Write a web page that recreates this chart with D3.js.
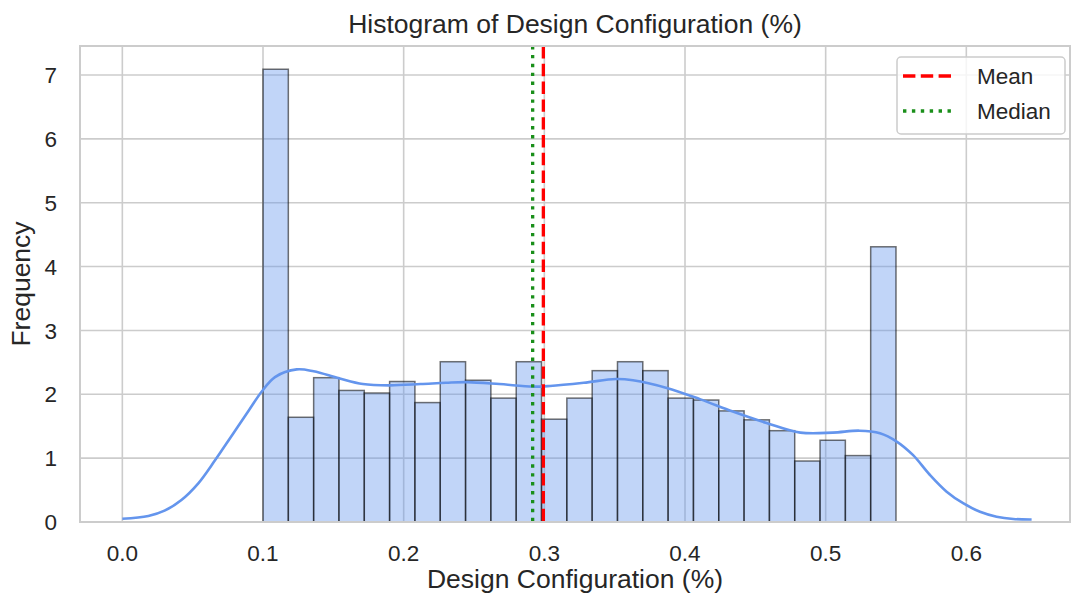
<!DOCTYPE html>
<html>
<head>
<meta charset="utf-8">
<script src="https://cdn.jsdelivr.net/npm/d3@7"></script>
<style>
  body { margin: 0; background: #fff; }
  svg text { font-family: "Liberation Sans", Arial, sans-serif; fill: #262626; }
</style>
</head>
<body>
<svg id="chart" width="1073" height="601"></svg>
<script>
// bin edges of the histogram (25 bins)
const binEdges = [0.100, 0.118, 0.136, 0.154, 0.172, 0.190, 0.208, 0.226, 0.244, 0.262,
                  0.280, 0.298, 0.316, 0.334, 0.352, 0.370, 0.388, 0.406, 0.424, 0.442,
                  0.460, 0.478, 0.496, 0.514, 0.532, 0.550];
// bar heights (density)
const binHeights = [7.09, 1.64, 2.26, 2.06, 2.02, 2.20, 1.87, 2.51, 2.22, 1.94,
                    2.51, 1.61, 1.94, 2.37, 2.51, 2.37, 1.94, 1.91, 1.74, 1.60,
                    1.43, 0.955, 1.28, 1.04, 4.31];
// kde curve
const kdeX = [0.000, 0.0185, 0.030, 0.042, 0.054, 0.066, 0.078, 0.090, 0.099, 0.1085,
              0.124, 0.136, 0.154, 0.171, 0.190, 0.212, 0.230, 0.245, 0.268, 0.292,
              0.304, 0.328, 0.351, 0.363, 0.387, 0.411, 0.434, 0.458, 0.482, 0.505,
              0.524, 0.5386, 0.5505, 0.562, 0.574, 0.586, 0.598, 0.6097, 0.6215, 0.6334,
              0.6464];
const kdeY = [0.05, 0.094, 0.177, 0.345, 0.606, 0.97, 1.36, 1.75, 2.04, 2.27,
              2.39, 2.36, 2.25, 2.16, 2.14, 2.16, 2.18, 2.19, 2.16, 2.12,
              2.13, 2.18, 2.24, 2.22, 2.10, 1.92, 1.73, 1.55, 1.40, 1.40,
              1.43, 1.39, 1.26, 1.05, 0.74, 0.475, 0.29, 0.16, 0.083, 0.047,
              0.04];
const meanValue = 0.2993;
const medianValue = 0.2917;
const xTicks = [0.0, 0.1, 0.2, 0.3, 0.4, 0.5, 0.6];
const yTicks = [0, 1, 2, 3, 4, 5, 6, 7];
const xDomain = [-0.0301, 0.6737];
const yDomain = [0, 7.454];

const svg = d3.select("#chart");
const width = +svg.attr("width");
const height = +svg.attr("height");
const margin = {top: 46, right: 3, bottom: 79, left: 80};

const x = d3.scaleLinear().domain(xDomain).range([margin.left, width - margin.right]);
const y = d3.scaleLinear().domain(yDomain).range([height - margin.bottom, margin.top]);

const gridColor = "#cccccc";

// grid
svg.append("g")
    .selectAll("line")
    .data(xTicks)
    .join("line")
    .attr("x1", d => x(d)).attr("x2", d => x(d))
    .attr("y1", margin.top).attr("y2", height - margin.bottom)
    .attr("stroke", gridColor).attr("stroke-width", 1.6);

svg.append("g")
    .selectAll("line")
    .data(yTicks)
    .join("line")
    .attr("x1", margin.left).attr("x2", width - margin.right)
    .attr("y1", d => y(d)).attr("y2", d => y(d))
    .attr("stroke", gridColor).attr("stroke-width", 1.6);

// bars
const bins = binHeights.map((h, i) => ({x0: binEdges[i], x1: binEdges[i + 1], h: h}));
svg.append("g")
    .selectAll("rect")
    .data(bins)
    .join("rect")
    .attr("x", d => x(d.x0))
    .attr("y", d => y(d.h))
    .attr("width", d => x(d.x1) - x(d.x0))
    .attr("height", d => y(0) - y(d.h))
    .attr("fill", "#6495ED")
    .attr("fill-opacity", 0.4)
    .attr("stroke", "#000")
    .attr("stroke-opacity", 0.55)
    .attr("stroke-width", 1.5);

// kde
const kdePoints = kdeX.map((v, i) => [v, kdeY[i]]);
svg.append("path")
    .datum(kdePoints)
    .attr("fill", "none")
    .attr("stroke", "#6495ED")
    .attr("stroke-width", 2.6)
    .attr("d", d3.line().x(d => x(d[0])).y(d => y(d[1])).curve(d3.curveCatmullRom));

// mean / median lines
svg.append("line")
    .attr("x1", x(meanValue)).attr("x2", x(meanValue))
    .attr("y1", y(yDomain[1])).attr("y2", y(0))
    .attr("stroke", "#ff0000").attr("stroke-width", 3.3)
    .attr("stroke-dasharray", "12.4,5.4");

svg.append("line")
    .attr("x1", x(medianValue)).attr("x2", x(medianValue))
    .attr("y1", y(yDomain[1])).attr("y2", y(0))
    .attr("stroke", "#1a8f1a").attr("stroke-width", 3.3)
    .attr("stroke-dasharray", "3.4,5.5");

// frame
svg.append("rect")
    .attr("x", margin.left).attr("y", margin.top)
    .attr("width", width - margin.left - margin.right)
    .attr("height", height - margin.top - margin.bottom)
    .attr("fill", "none")
    .attr("stroke", gridColor).attr("stroke-width", 2);

// tick labels
svg.append("g")
    .selectAll("text")
    .data(xTicks)
    .join("text")
    .attr("x", d => x(d))
    .attr("y", 561)
    .attr("text-anchor", "middle")
    .style("font-size", "22.5px")
    .text(d => d3.format(".1f")(d));

svg.append("g")
    .selectAll("text")
    .data(yTicks)
    .join("text")
    .attr("x", 57)
    .attr("y", d => y(d))
    .attr("dy", "0.36em")
    .attr("text-anchor", "end")
    .style("font-size", "22.5px")
    .text(d => d);

// axis labels and title
svg.append("text")
    .attr("x", (margin.left + width - margin.right) / 2)
    .attr("y", 588)
    .attr("text-anchor", "middle")
    .style("font-size", "26.5px")
    .text("Design Configuration (%)");

svg.append("text")
    .attr("transform", `translate(30, ${(margin.top + height - margin.bottom) / 2}) rotate(-90)`)
    .attr("text-anchor", "middle")
    .style("font-size", "26.5px")
    .text("Frequency");

svg.append("text")
    .attr("x", (margin.left + width - margin.right) / 2)
    .attr("y", 33)
    .attr("text-anchor", "middle")
    .style("font-size", "26.5px")
    .text("Histogram of Design Configuration (%)");

// legend
const legend = svg.append("g").attr("transform", "translate(897, 57)");
legend.append("rect")
    .attr("width", 168).attr("height", 77)
    .attr("rx", 4)
    .attr("fill", "#fff").attr("fill-opacity", 0.8)
    .attr("stroke", gridColor).attr("stroke-width", 1.5);

const legendItems = [
    {label: "Mean", color: "#ff0000", dash: "12.4,5.4", dy: 19},
    {label: "Median", color: "#1a8f1a", dash: "3.4,5.5", dy: 54}
];
legendItems.forEach(item => {
    legend.append("line")
        .attr("x1", 6).attr("x2", 55)
        .attr("y1", item.dy).attr("y2", item.dy)
        .attr("stroke", item.color).attr("stroke-width", 3.3)
        .attr("stroke-dasharray", item.dash);
    legend.append("text")
        .attr("x", 80).attr("y", item.dy)
        .attr("dy", "0.36em")
        .style("font-size", "22.5px")
        .text(item.label);
});
</script>
</body>
</html>
